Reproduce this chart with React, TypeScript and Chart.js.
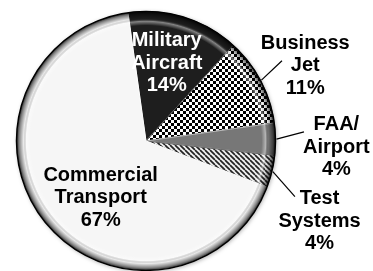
import React, { useEffect, useRef } from "react";
import { Chart, registerables } from "chart.js";

Chart.register(...registerables);

const categories = ["Military Aircraft", "Business Jet", "FAA/Airport", "Test Systems", "Commercial Transport"];
const labelLines = [["Military", "Aircraft"], ["Business", "Jet"], ["FAA/", "Airport"], ["Test", "Systems"], ["Commercial", "Transport"]];
const shares = [14, 11, 4, 4, 67];
const percentLabels = ["14%", "11%", "4%", "4%", "67%"];

// label placement relative to pie centre, in units of radius
const labelOffsets = [
  { x: 0.16, y: -0.6 },
  { x: 1.23, y: -0.58 },
  { x: 1.47, y: 0.05 },
  { x: 1.34, y: 0.62 },
  { x: -0.35, y: 0.44 },
];
// leader line end points relative to pie centre, in units of radius
const leaderEnds = [null, { x: 1.05, y: -0.62 }, { x: 1.22, y: -0.07 }, { x: 1.15, y: 0.43 }, null];

function makeChecker(): CanvasPattern | string {
  const s = 3;
  const c = document.createElement("canvas");
  c.width = 2 * s; c.height = 2 * s;
  const g = c.getContext("2d");
  if (!g) return "#777";
  g.fillStyle = "#ffffff"; g.fillRect(0, 0, 2 * s, 2 * s);
  g.fillStyle = "#000000"; g.fillRect(0, 0, s, s); g.fillRect(s, s, s, s);
  return g.createPattern(c, "repeat") || "#777";
}

function makeStripes(): CanvasPattern | string {
  const s = 5;
  const c = document.createElement("canvas");
  c.width = s; c.height = s;
  const g = c.getContext("2d");
  if (!g) return "#999";
  g.fillStyle = "#eeeeee"; g.fillRect(0, 0, s, s);
  g.strokeStyle = "#222"; g.lineWidth = 1.7;
  for (let k = -1; k <= 1; k++) {
    g.beginPath();
    g.moveTo(k * s, 0);
    g.lineTo(k * s + s, s);
    g.stroke();
  }
  return g.createPattern(c, "repeat") || "#999";
}

const bevelPlugin = {
  id: "bevel",
  beforeDatasetsDraw(chart: any) {
    const a = chart.getDatasetMeta(0).data[0];
    if (!a) return;
    const { x, y, outerRadius } = a.getProps(["x", "y", "outerRadius"], true);
    const ctx = chart.ctx;
    ctx.save();
    ctx.shadowColor = "rgba(0,0,0,0.35)";
    ctx.shadowBlur = 4;
    ctx.shadowOffsetX = 1;
    ctx.shadowOffsetY = 1;
    ctx.beginPath();
    ctx.arc(x, y, outerRadius, 0, Math.PI * 2);
    ctx.fillStyle = "#fff";
    ctx.fill();
    ctx.restore();
  },
  afterDatasetsDraw(chart: any) {
    const a = chart.getDatasetMeta(0).data[0];
    if (!a) return;
    const { x, y, outerRadius } = a.getProps(["x", "y", "outerRadius"], true);
    const ctx = chart.ctx;
    ctx.save();
    const gr = ctx.createRadialGradient(x, y, outerRadius - 14, x, y, outerRadius);
    gr.addColorStop(0, "rgba(255,255,255,0)");
    gr.addColorStop(0.3, "rgba(255,255,255,0.45)");
    gr.addColorStop(0.5, "rgba(0,0,0,0.05)");
    gr.addColorStop(0.8, "rgba(0,0,0,0.45)");
    gr.addColorStop(1, "rgba(0,0,0,0.85)");
    ctx.beginPath();
    ctx.arc(x, y, outerRadius, 0, Math.PI * 2);
    ctx.fillStyle = gr;
    ctx.fill();
    ctx.lineWidth = 1.5;
    ctx.strokeStyle = "#000";
    ctx.stroke();
    ctx.restore();
  },
  afterDraw(chart: any) {
    const meta = chart.getDatasetMeta(0);
    const a = meta.data[0];
    if (!a) return;
    const { x, y, outerRadius } = a.getProps(["x", "y", "outerRadius"], true);
    const ctx = chart.ctx;
    ctx.save();
    ctx.font = "bold 20px 'Liberation Sans', Arial, sans-serif";
    ctx.textAlign = "center";
    ctx.textBaseline = "middle";
    const lh = 22.5;
    meta.data.forEach((arc: any, i: number) => {
      const off = labelOffsets[i];
      const lines = [...labelLines[i], percentLabels[i]];
      const tx = x + off.x * outerRadius;
      const ty = y + off.y * outerRadius;
      ctx.fillStyle = i === 0 ? "#ffffff" : "#000000";
      lines.forEach((t, k) => {
        ctx.fillText(t, tx, ty + (k - (lines.length - 1) / 2) * lh);
      });
      const le = leaderEnds[i];
      if (le) {
        const p = arc.getProps(["startAngle", "endAngle"], true);
        const mid = (p.startAngle + p.endAngle) / 2;
        const sx = x + Math.cos(mid) * (outerRadius + 1);
        const sy = y + Math.sin(mid) * (outerRadius + 1);
        ctx.beginPath();
        ctx.moveTo(sx, sy);
        ctx.lineTo(x + le.x * outerRadius, y + le.y * outerRadius);
        ctx.lineWidth = 1.2;
        ctx.strokeStyle = "#000";
        ctx.stroke();
      }
    });
    ctx.restore();
  },
};

export default function App() {
  const ref = useRef<HTMLCanvasElement | null>(null);
  useEffect(() => {
    if (!ref.current) return;
    const fills = ["#1e1e1e", makeChecker(), "#777777", makeStripes(), "#f6f6f6"];
    const chart = new Chart(ref.current, {
      type: "pie",
      data: {
        labels: categories,
        datasets: [
          {
            data: shares,
            backgroundColor: fills as any,
            borderColor: ["#8a8a8a", "#555", "#bbb", "#666", "#ffffff"],
            borderWidth: 1,
            hoverOffset: 0,
          },
        ],
      },
      options: {
        responsive: false,
        animation: false,
        rotation: -8,
        layout: { padding: { left: 16, right: 97, top: 11, bottom: 11 } },
        plugins: { legend: { display: false }, tooltip: { enabled: false } },
      },
      plugins: [bevelPlugin],
    });
    return () => chart.destroy();
  }, []);
  return (
    <div style={{ position: "absolute", left: 0, top: 0, width: 373, height: 271, overflow: "hidden", background: "#fff" }}>
      <canvas ref={ref} width={373} height={282} style={{ width: 373, height: 282, display: "block" }} />
    </div>
  );
}
